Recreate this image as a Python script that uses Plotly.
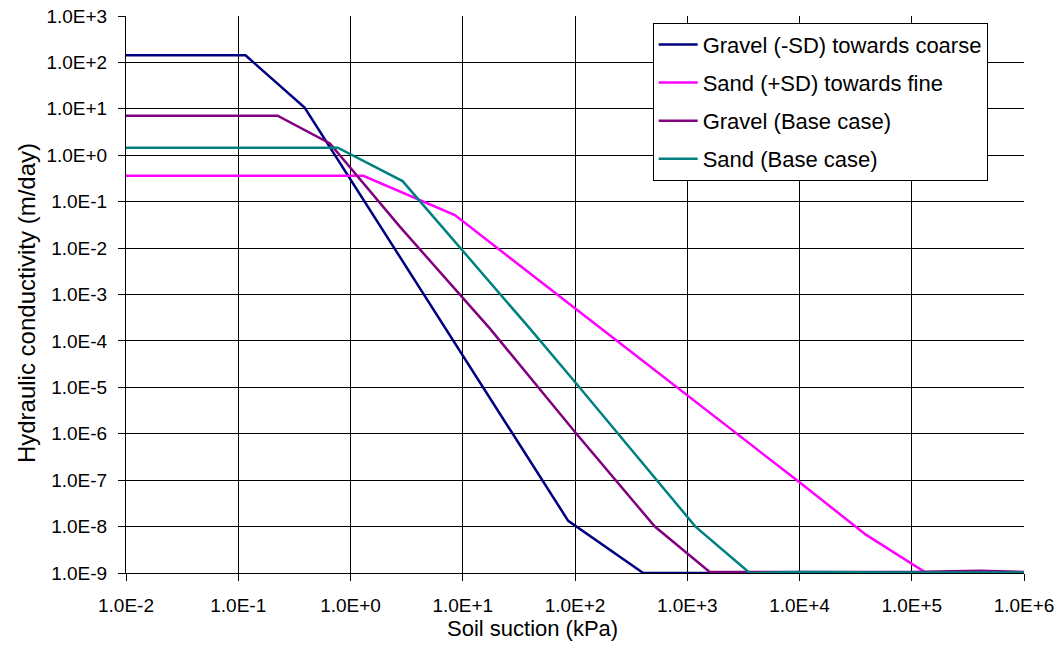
import plotly.graph_objects as go

# Soil suction (kPa) and hydraulic conductivity (m/day)
gravel_sd_x = [0.01, 0.116, 0.39, 10.0, 87.0, 405.0, 1e3, 1e4, 1e5, 1e6]
gravel_sd_y = [142.0, 142.0, 10.7, 4.9e-5, 1.33e-8, 1e-9, 1e-9, 1e-9, 1e-9, 1e-9]

sand_sd_x = [0.01, 1.3, 8.5, 100.0, 1e3, 1e4, 3.9e4, 1.35e5, 1e6]
sand_sd_y = [0.362, 0.362, 0.0514, 5.1e-4, 6.8e-6, 9.0e-8, 6.7e-9, 1e-9, 1e-9]

gravel_base_x = [0.01, 0.224, 0.656, 2.75, 17.4, 103.0, 514.0, 1585.0, 1e4, 1e5, 4e5, 1e6]
gravel_base_y = [7.1, 7.1, 1.8, 0.029, 1.86e-4, 1.0e-6, 1e-8, 1.05e-9, 1.05e-9, 1.05e-9, 1.12e-9, 1.05e-9]

sand_base_x = [0.01, 0.77, 2.91, 39.5, 100.0, 1183.0, 3600.0, 1e4, 1e5, 1e6]
sand_base_y = [1.45, 1.45, 0.278, 1.86e-4, 1.3e-5, 1e-8, 1e-9, 1.05e-9, 1.03e-9, 1.03e-9]

series = [
    ("Gravel (-SD) towards coarse", gravel_sd_x, gravel_sd_y, "#000080"),
    ("Sand (+SD) towards fine", sand_sd_x, sand_sd_y, "#FF00FF"),
    ("Gravel (Base case)", gravel_base_x, gravel_base_y, "#800080"),
    ("Sand (Base case)", sand_base_x, sand_base_y, "#008080"),
]

x_tickvals = [1e-2, 1e-1, 1e0, 1e1, 1e2, 1e3, 1e4, 1e5, 1e6]
x_ticktext = ["1.0E-2", "1.0E-1", "1.0E+0", "1.0E+1", "1.0E+2", "1.0E+3",
              "1.0E+4", "1.0E+5", "1.0E+6"]
y_tickvals = [1e-9, 1e-8, 1e-7, 1e-6, 1e-5, 1e-4, 1e-3, 1e-2, 1e-1, 1e0, 1e1, 1e2, 1e3]
y_ticktext = ["1.0E-9", "1.0E-8", "1.0E-7", "1.0E-6", "1.0E-5", "1.0E-4", "1.0E-3",
              "1.0E-2", "1.0E-1", "1.0E+0", "1.0E+1", "1.0E+2", "1.0E+3"]

x_title = "Soil suction (kPa)"
y_title = "Hydraulic conductivity (m/day)"

FONT = "Liberation Sans, Arial, sans-serif"

fig = go.Figure()
for i, (name, xs, ys, col) in enumerate(series):
    fig.add_trace(go.Scatter(x=xs, y=ys, mode="lines", name=name,
                             legendgroup="g%d" % i,
                             line=dict(color=col, width=2.5)))

fig.update_layout(
    width=1059, height=648,
    paper_bgcolor="white", plot_bgcolor="white",
    margin=dict(l=126, r=35, t=16, b=75, autoexpand=False),
    font=dict(family=FONT, size=19, color="black"),
    showlegend=True,
    legend=dict(x=0.5865, y=0.988, xanchor="left", yanchor="top",
                bgcolor="white", bordercolor="black", borderwidth=1,
                font=dict(family=FONT, size=22, color="black"), tracegroupgap=6.5,
                itemwidth=39),
    annotations=[
        dict(text=x_title, xref="paper", yref="paper", x=0.453, y=-0.1005,
             xanchor="center", yanchor="middle", showarrow=False,
             font=dict(family=FONT, size=22, color="black")),
        dict(text=y_title, xref="paper", yref="paper", x=-0.1113, y=0.4847,
             xanchor="center", yanchor="middle", showarrow=False, textangle=-90,
             font=dict(family=FONT, size=24, color="black")),
    ],
)
fig.update_xaxes(type="log", range=[-2, 6], tickvals=x_tickvals, ticktext=x_ticktext,
                 showgrid=True, gridcolor="black", gridwidth=1,
                 showline=True, linecolor="black", linewidth=1,
                 ticks="outside", ticklen=7, tickcolor="black", ticklabelstandoff=8,
                 zeroline=False, automargin=False)
fig.update_yaxes(type="log", range=[-9, 3], tickvals=y_tickvals, ticktext=y_ticktext,
                 showgrid=True, gridcolor="black", gridwidth=1,
                 showline=True, linecolor="black", linewidth=1,
                 ticks="outside", ticklen=7, tickcolor="black", ticklabelstandoff=7,
                 zeroline=False, automargin=False)

fig.write_html("out.html", config={"displayModeBar": False},
               post_script="document.body.style.margin='0';")
